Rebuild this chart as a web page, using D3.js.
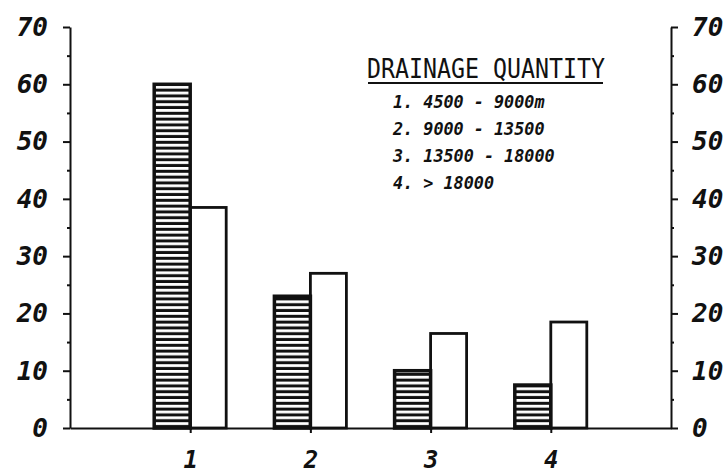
<!doctype html>
<html>
<head>
	<meta charset="utf-8">
	<title>Drainage quantity</title>
	<script src="https://cdnjs.cloudflare.com/ajax/libs/d3/7.8.5/d3.min.js"></script>
	<style>
		body { margin: 0; background: #fff; }
		text { font-family: "DejaVu Sans Mono", monospace; fill: #111; }
		.axis path, .axis line { stroke: #111; stroke-width: 2; }
		.tick-label text { font-size: 26px; font-style: italic; font-weight: bold; }
		.x-label text { font-size: 24px; }
	</style>
</head>
<body>
	<script>
		// values
		var categories = ['1', '2', '3', '4'];
		var hatched = [60, 23, 10, 7.5];
		var open = [38.5, 27, 16.5, 18.5];
		var yTicks = [0, 10, 20, 30, 40, 50, 60, 70];
		var yMinor = [5, 15, 25, 35, 45, 55, 65];
		var legendTitle = 'DRAINAGE QUANTITY';
		var legendItems = ['1. 4500 - 9000m', '2. 9000 - 13500', '3. 13500 - 18000', '4. > 18000'];

		var width = 728, height = 474;
		var barW = 36;

		var svg = d3.select('body').append('svg')
			.attr('width', width)
			.attr('height', height);

		var x = d3.scaleLinear().domain([0, categories.length + 1]).range([70, 671]);
		var y = d3.scaleLinear().domain([0, 70]).range([428, 27]);

		// horizontal hatch
		var pat = svg.append('defs').append('pattern')
			.attr('id', 'hatch')
			.attr('patternUnits', 'userSpaceOnUse')
			.attr('width', 8)
			.attr('height', 5.8)
			.attr('y', y(0));
		pat.append('rect').attr('width', 8).attr('height', 5.8).attr('fill', '#fff');
		pat.append('rect').attr('y', 2.8).attr('width', 8).attr('height', 3).attr('fill', '#111');

		// bars
		svg.append('g').selectAll('rect')
			.data(hatched)
			.enter()
			.append('rect')
			.attr('x', function (d, i) { return x(i + 1) - barW; })
			.attr('y', function (d) { return y(d); })
			.attr('width', barW)
			.attr('height', function (d) { return y(0) - y(d); })
			.attr('fill', 'url(#hatch)')
			.attr('stroke', '#111')
			.attr('stroke-width', 3.5);

		svg.append('g').selectAll('rect')
			.data(open)
			.enter()
			.append('rect')
			.attr('x', function (d, i) { return x(i + 1); })
			.attr('y', function (d) { return y(d); })
			.attr('width', barW)
			.attr('height', function (d) { return y(0) - y(d); })
			.attr('fill', 'none')
			.attr('stroke', '#111')
			.attr('stroke-width', 2.8);

		// left axis
		svg.append('g').attr('class', 'axis tick-label')
			.attr('transform', 'translate(' + x(0) + ',0)')
			.call(d3.axisLeft(y).tickValues(yTicks).tickSize(7).tickSizeOuter(0).tickPadding(15));
		svg.append('g').attr('class', 'axis')
			.attr('transform', 'translate(' + x(0) + ',0)')
			.call(d3.axisLeft(y).tickValues(yMinor).tickSize(3).tickFormat(''))
			.select('.domain').remove();

		// right axis
		svg.append('g').attr('class', 'axis tick-label')
			.attr('transform', 'translate(' + x(categories.length + 1) + ',0)')
			.call(d3.axisRight(y).tickValues(yTicks).tickSize(7).tickSizeOuter(0).tickPadding(14));
		svg.append('g').attr('class', 'axis')
			.attr('transform', 'translate(' + x(categories.length + 1) + ',0)')
			.call(d3.axisRight(y).tickValues(yMinor).tickSize(3).tickFormat(''))
			.select('.domain').remove();

		// bottom axis
		svg.append('g').attr('class', 'axis tick-label x-label')
			.attr('transform', 'translate(0,' + y(0) + ')')
			.call(d3.axisBottom(x)
				.tickValues(categories.map(function (c, i) { return i + 1; }))
				.tickFormat(function (d) { return categories[d - 1]; })
				.tickSize(5).tickSizeOuter(0).tickPadding(18));

		svg.selectAll('.tick-label text').attr('font-size', null).attr('font-family', null);

		// legend
		var leg = svg.append('g');
		leg.append('text')
			.attr('x', 367)
			.attr('y', 78)
			.attr('textLength', 238)
			.attr('lengthAdjust', 'spacingAndGlyphs')
			.style('font-size', '27px')
			.text(legendTitle);
		leg.append('line')
			.attr('x1', 368).attr('x2', 603)
			.attr('y1', 83).attr('y2', 83)
			.attr('stroke', '#111').attr('stroke-width', 2);
		leg.selectAll('.item')
			.data(legendItems)
			.enter()
			.append('text')
			.attr('class', 'item')
			.attr('x', 393)
			.attr('y', function (d, i) { return 108 + i * 27; })
			.style('font-size', '18px')
			.style('font-style', 'italic')
			.style('font-weight', 'bold')
			.attr('textLength', function (d) { return d.length * 10.1; })
			.attr('lengthAdjust', 'spacingAndGlyphs')
			.text(function (d) { return d; });
	</script>
</body>
</html>
